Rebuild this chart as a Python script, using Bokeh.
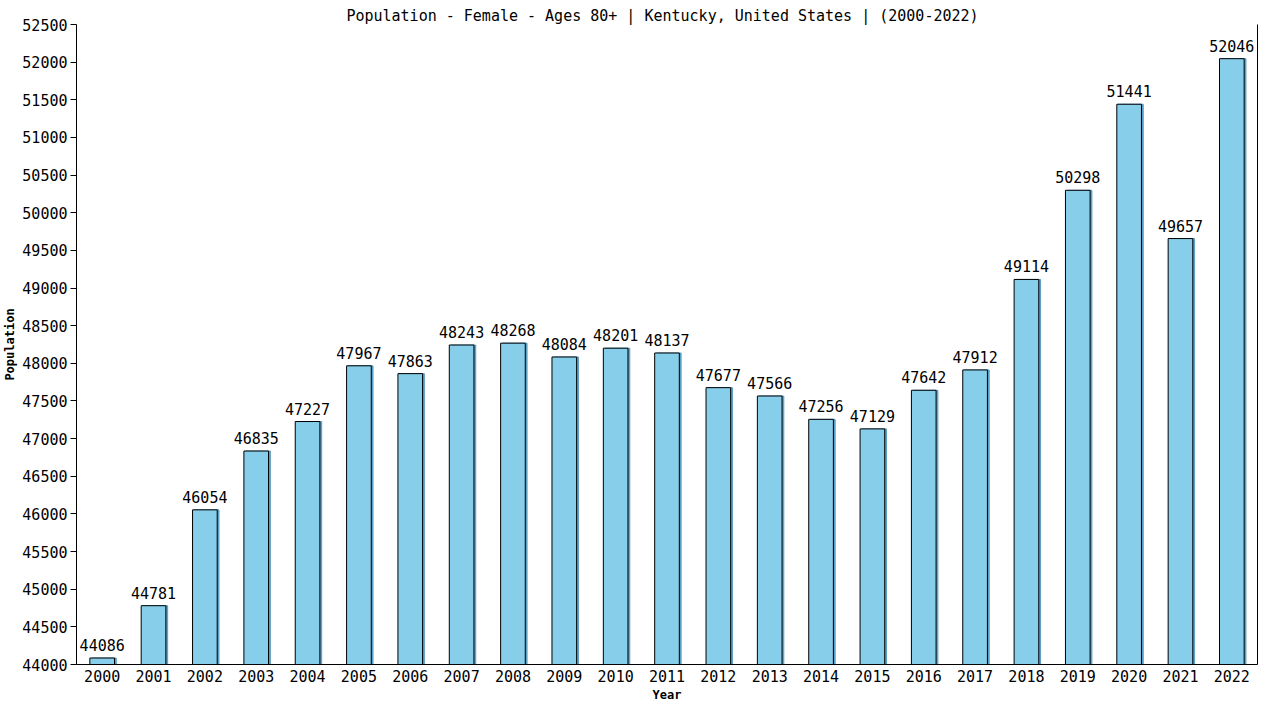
from bokeh.plotting import figure
from bokeh.models import ColumnDataSource, FixedTicker, LinearAxis, Range1d, FactorRange
from bokeh.transform import dodge
from bokeh.core.properties import value
from bokeh.embed import file_html
from bokeh.resources import INLINE

years = [str(y) for y in range(2000, 2023)]
values = [44086, 44781, 46054, 46835, 47227, 47967, 47863, 48243, 48268, 48084,
          48201, 48137, 47677, 47566, 47256, 47129, 47642, 47912, 49114, 50298,
          51441, 49657, 52046]
y_ticks = [44000, 44500, 45000, 45500, 46000, 46500, 47000, 47500, 48000, 48500,
           49000, 49500, 50000, 50500, 51000, 51500, 52000, 52500]
y_min, y_max = 44000, 52500
title_text = "Population - Female - Ages 80+ | Kentucky, United States |  (2000-2022)"

FONT = "DejaVu Sans Mono"
FS = "15px"

src = ColumnDataSource(dict(year=years, value=values, label=[str(v) for v in values],
                            base=[y_min] * len(values)))

p = figure(width=1264, height=704, x_range=FactorRange(*years),
           y_range=Range1d(y_min, y_max), output_backend="svg", toolbar_location=None,
           min_border_left=70, min_border_right=7, min_border_top=24, min_border_bottom=0)

p.title.text = title_text
p.title.align = "center"
p.title.text_font = FONT
p.title.text_font_size = FS
p.title.text_font_style = "normal"
p.title.text_color = "black"
p.title.standoff = 0
p.title.offset = 0

p.outline_line_color = None
p.xgrid.grid_line_color = None
p.ygrid.grid_line_color = None
p.background_fill_color = "white"

# shadow
p.vbar(x=dodge("year", 0.035, range=p.x_range), top="value", bottom="base", width=0.48,
       source=src, fill_color="#5a9fc4", line_color="#5a9fc4", line_width=1)
p.vbar(x="year", top="value", bottom="base", width=0.48, source=src,
       fill_color="#87ceeb", line_color="black", line_width=1)

p.text(x="year", y="value", text="label", source=src, text_align="center",
       text_baseline="alphabetic", y_offset=-13, text_font=value(FONT),
       text_font_size=FS, text_color="black")

p.yaxis.ticker = FixedTicker(ticks=y_ticks)
for ax in [p.xaxis[0], p.yaxis[0]]:
    ax.major_label_text_font = FONT
    ax.major_label_text_font_size = FS
    ax.major_label_text_color = "black"
    ax.axis_label_text_font = FONT
    ax.axis_label_text_font_size = "12px"
    ax.axis_label_text_font_style = "bold"
    ax.axis_label_text_color = "black"
    ax.axis_line_color = "black"
    ax.major_tick_line_color = "black"
    ax.minor_tick_line_color = None
p.yaxis.axis_label = "Population"
p.xaxis.axis_label = "Year"
p.yaxis.major_tick_out = 6
p.yaxis.major_tick_in = 0
p.yaxis.major_label_standoff = 3
p.yaxis.axis_label_standoff = 2
p.xaxis.major_tick_line_color = None
p.xaxis.major_tick_out = 0
p.xaxis.major_tick_in = 0
p.xaxis.major_label_standoff = 5
p.xaxis.axis_label_standoff = 3

right = LinearAxis(major_label_text_font_size="0px", major_tick_line_color=None,
                   minor_tick_line_color=None, axis_line_color="black", ticker=FixedTicker(ticks=[]))
p.add_layout(right, "right")

open("out.html", "w").write(file_html(p, INLINE))
